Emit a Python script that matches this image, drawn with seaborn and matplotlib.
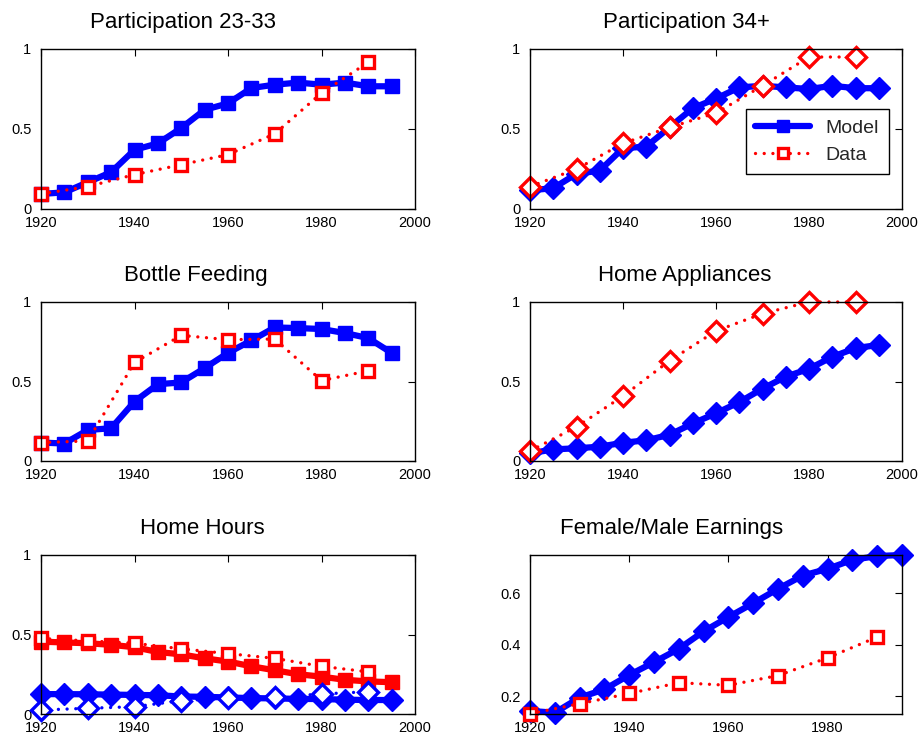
import matplotlib
matplotlib.use('Agg')
import matplotlib.pyplot as plt
from matplotlib.lines import Line2D
import seaborn as sns

# ---------------- data ----------------
model_years = [1920, 1925, 1930, 1935, 1940, 1945, 1950, 1955,
               1960, 1965, 1970, 1975, 1980, 1985, 1990, 1995]
data_years = [1920, 1930, 1940, 1950, 1960, 1970, 1980, 1990]

part_young_model = [0.094, 0.104, 0.167, 0.23, 0.37, 0.41, 0.506, 0.62,
                    0.66, 0.756, 0.777, 0.79, 0.777, 0.79, 0.767, 0.767]
part_young_data = [0.094, 0.14, 0.215, 0.277, 0.34, 0.47, 0.725, 0.917]

part_old_model = [0.117, 0.13, 0.22, 0.24, 0.38, 0.39, 0.51, 0.63,
                  0.69, 0.76, 0.77, 0.76, 0.75, 0.77, 0.755, 0.755]
part_old_data = [0.14, 0.25, 0.41, 0.51, 0.60, 0.77, 0.95, 0.95]

bottle_model = [0.116, 0.11, 0.195, 0.206, 0.374, 0.483, 0.494, 0.584,
                0.68, 0.758, 0.84, 0.836, 0.83, 0.805, 0.773, 0.68]
bottle_data = [0.116, 0.126, 0.62, 0.79, 0.763, 0.767, 0.506, 0.567]

appl_model = [0.048, 0.073, 0.08, 0.09, 0.115, 0.13, 0.165, 0.236,
              0.30, 0.37, 0.455, 0.53, 0.58, 0.655, 0.71, 0.73]
appl_data = [0.063, 0.215, 0.408, 0.63, 0.818, 0.927, 1.0, 1.0]

hours_f_model = [0.455, 0.45, 0.445, 0.435, 0.42, 0.39, 0.375, 0.35,
                 0.33, 0.30, 0.275, 0.25, 0.235, 0.215, 0.205, 0.20]
hours_f_data = [0.475, 0.46, 0.445, 0.41, 0.38, 0.35, 0.30, 0.265]
hours_m_model = [0.125, 0.125, 0.124, 0.122, 0.12, 0.118, 0.11, 0.108,
                 0.104, 0.10, 0.098, 0.095, 0.094, 0.09, 0.088, 0.088]
hours_m_data = [0.025, 0.036, 0.046, 0.084, 0.10, 0.105, 0.126, 0.14]

earn_model = [0.142, 0.135, 0.194, 0.226, 0.282, 0.332, 0.384, 0.452,
              0.508, 0.562, 0.618, 0.67, 0.696, 0.731, 0.746, 0.75]
earn_data = [0.131, 0.17, 0.21, 0.252, 0.242, 0.28, 0.349, 0.43]

titles = ['Participation 23-33', 'Participation 34+', 'Bottle Feeding',
          'Home Appliances', 'Home Hours', 'Female/Male Earnings']

BLUE = '#0000ff'
RED = '#ff0000'
DOTS = (0, (0.01, 2.6))   # round dots like the matlab ':' style

# ---------------- style ----------------
sns.set_theme(style='white')
plt.rcParams['font.family'] = ['Liberation Sans', 'DejaVu Sans']
plt.rcParams['xtick.direction'] = 'in'
plt.rcParams['ytick.direction'] = 'in'
plt.rcParams['xtick.top'] = True
plt.rcParams['ytick.right'] = True
plt.rcParams['axes.edgecolor'] = 'black'
plt.rcParams['axes.linewidth'] = 1.0


def model_line(ax, y, color=BLUE, marker='s'):
    ms = 10.5 if marker == 's' else 11
    sns.lineplot(x=model_years, y=y, ax=ax, color=color, linewidth=4.5,
                 marker=marker, markersize=ms, markerfacecolor=color,
                 markeredgecolor=color, markeredgewidth=1, legend=False,
                 clip_on=False)


def data_line(ax, y, color=RED, marker='s'):
    ms = 8.5 if marker == 's' else 10
    sns.lineplot(x=data_years, y=y, ax=ax, color=color, linewidth=2.4,
                 linestyle=DOTS, dash_capstyle='round',
                 marker=marker, markersize=ms, markerfacecolor='white',
                 markeredgecolor=color, markeredgewidth=2.4, legend=False,
                 clip_on=False)


fig = plt.figure(figsize=(9.19, 7.40), dpi=100)
W, H = 919, 740
boxes = [(41, 49, 415, 209), (530, 49, 902, 209),
         (41, 302, 415, 461), (530, 302, 902, 461),
         (41, 555, 415, 714), (530, 555, 902, 714)]
title_x = [0.38, 0.42, 0.414, 0.415, 0.43, 0.38]
axes = []
for (l, t, r, b) in boxes:
    axes.append(fig.add_axes([l / W, 1 - b / H, (r - l) / W, (b - t) / H]))

ax = axes[0]
model_line(ax, part_young_model)
data_line(ax, part_young_data)

ax = axes[1]
model_line(ax, part_old_model, marker='D')
data_line(ax, part_old_data, marker='D')

ax = axes[2]
model_line(ax, bottle_model)
data_line(ax, bottle_data)

ax = axes[3]
model_line(ax, appl_model, marker='D')
data_line(ax, appl_data, marker='D')

ax = axes[4]
model_line(ax, hours_f_model, color=RED, marker='s')
data_line(ax, hours_f_data, color=RED, marker='s')
model_line(ax, hours_m_model, color=BLUE, marker='D')
data_line(ax, hours_m_data, color=BLUE, marker='D')

ax = axes[5]
model_line(ax, earn_model, marker='D')
data_line(ax, earn_data, marker='s')

for i, ax in enumerate(axes):
    ax.set_xlabel('')
    ax.set_ylabel('')
    ax.tick_params(length=5, width=0.8, labelsize=10.5, pad=5, colors='black')
    if i < 5:
        ax.set_xlim(1920, 2000)
        ax.set_xticks([1920, 1940, 1960, 1980, 2000])
        ax.set_ylim(0, 1)
        ax.set_yticks([0, 0.5, 1])
        ax.set_yticklabels(['0', '0.5', '1'])
    else:
        ax.set_xlim(1920, 1995)
        ax.set_xticks([1920, 1940, 1960, 1980])
        ax.set_ylim(0.13, 0.75)
        ax.set_yticks([0.2, 0.4, 0.6])
        ax.set_yticklabels(['0.2', '0.4', '0.6'])
    ax.tick_params(axis='y', pad=7)
    for sp in ax.spines.values():
        sp.set_visible(True)
        sp.set_color('black')
    ax.text(title_x[i], 1.13, titles[i], transform=ax.transAxes,
            ha='center', va='baseline', fontsize=16, color='black')

# legend in the second panel (square markers, as in the original)
handles = [Line2D([], [], color=BLUE, linewidth=4.5, marker='s', markersize=9,
                  markerfacecolor=BLUE, markeredgecolor=BLUE),
           Line2D([], [], color=RED, linewidth=2.4, linestyle=DOTS, marker='s',
                  markersize=7, markerfacecolor='white', markeredgecolor=RED,
                  markeredgewidth=2.4, dash_capstyle='round')]
leg = axes[1].legend(handles, ['Model', 'Data'], loc='lower right',
                     bbox_to_anchor=(0.99, 0.16), fontsize=14, frameon=True,
                     fancybox=False, edgecolor='black', framealpha=1,
                     handlelength=2.8, borderpad=0.5, labelspacing=0.5)
leg.get_frame().set_linewidth(1.0)

fig.savefig('out.png', dpi=100)
